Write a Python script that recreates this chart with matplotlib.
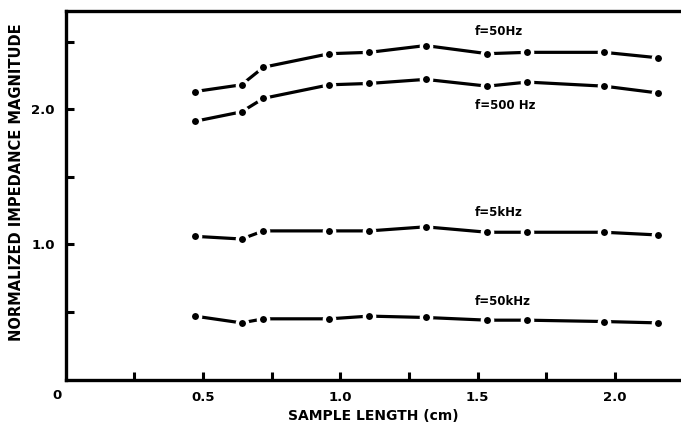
import matplotlib
matplotlib.use("Agg")
import matplotlib.pyplot as plt
from matplotlib.ticker import FixedLocator, NullFormatter

# sample lengths (cm) shared by all four curves
length_cm = [0.47, 0.64, 0.72, 0.96, 1.105, 1.31, 1.535, 1.68, 1.96, 2.155]

z_50hz = [2.13, 2.18, 2.31, 2.41, 2.42, 2.47, 2.41, 2.42, 2.42, 2.38]
z_500hz = [1.91, 1.98, 2.08, 2.18, 2.19, 2.22, 2.17, 2.20, 2.17, 2.12]
z_5khz = [1.06, 1.04, 1.10, 1.10, 1.10, 1.13, 1.09, 1.09, 1.09, 1.07]
z_50khz = [0.47, 0.42, 0.45, 0.45, 0.47, 0.46, 0.44, 0.44, 0.43, 0.42]

series = [
    ("f=50Hz", z_50hz),
    ("f=500 Hz", z_500hz),
    ("f=5kHz", z_5khz),
    ("f=50kHz", z_50khz),
]
# where the frequency tags sit (data coords)
tag_pos = [(1.49, 2.575), (1.49, 2.03), (1.49, 1.235), (1.49, 0.58)]

plt.rcParams["font.family"] = ["DejaVu Sans"]
plt.rcParams["font.weight"] = "bold"

fig = plt.figure(figsize=(6.81, 4.26), dpi=100)
ax = fig.add_axes([0.0965, 0.1087, 0.9035, 0.8653])

for (name, vals), (tx, ty) in zip(series, tag_pos):
    ax.plot(length_cm, vals, color="black", lw=2.3, marker="o",
            ms=7.4, mfc="black", mec="white", mew=2.4, solid_capstyle="butt")
    ax.text(tx, ty, name, fontsize=8.5, fontweight="bold", ha="left", va="center")

ax.set_xlim(0, 2.24)
ax.set_ylim(0, 2.725)

ax.spines["right"].set_visible(False)
for s in ["left", "bottom", "top"]:
    ax.spines[s].set_linewidth(2.4)

ax.xaxis.set_major_locator(FixedLocator([0.5, 1.0, 1.5, 2.0]))
ax.xaxis.set_minor_locator(FixedLocator([0.25, 0.75, 1.25, 1.75]))
ax.yaxis.set_major_locator(FixedLocator([1.0, 2.0]))
ax.yaxis.set_minor_locator(FixedLocator([0.5, 1.5, 2.5]))
ax.xaxis.set_minor_formatter(NullFormatter())
ax.yaxis.set_minor_formatter(NullFormatter())
ax.set_xticklabels(["0.5", "1.0", "1.5", "2.0"])
ax.set_yticklabels(["1.0", "2.0"])

ax.tick_params(which="both", direction="in", length=5.5, width=2.2,
               top=False, right=False, labelsize=9.5, pad=8)

ax.annotate("0", xy=(0, 0), xycoords="axes fraction", xytext=(-9, -16),
            textcoords="offset pixels", ha="center", va="center",
            fontsize=9.5, fontweight="bold")

ax.set_xlabel("SAMPLE LENGTH (cm)", fontsize=10, fontweight="bold", labelpad=4)
ax.set_ylabel("NORMALIZED IMPEDANCE MAGNITUDE", fontsize=10.5, fontweight="bold",
              labelpad=10)
ax.yaxis.set_label_coords(-0.068, 0.535)

fig.savefig("out.png", dpi=100)
